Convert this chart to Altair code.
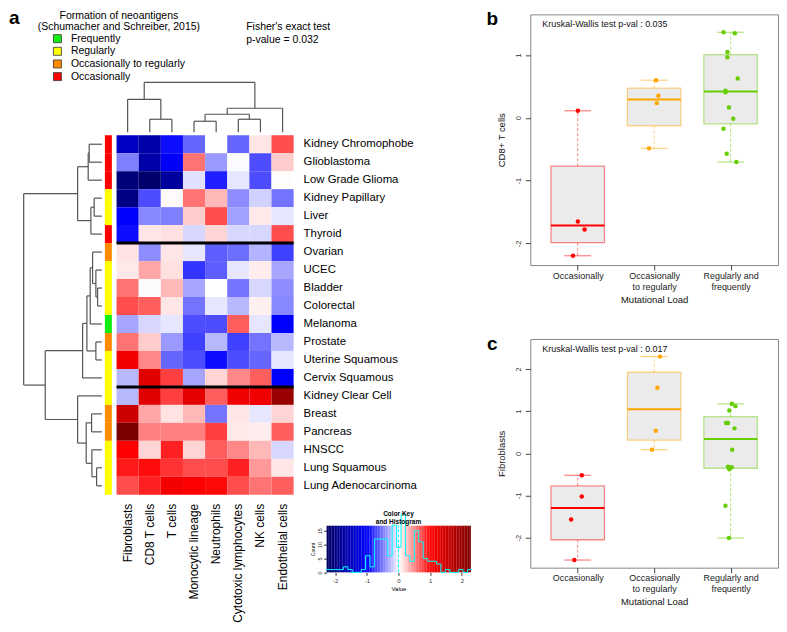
import altair as alt
import pandas as pd
import numpy as np

FONT = "Liberation Sans"

# ---------------- Panel a data ----------------
rows = ["Kidney Chromophobe", "Glioblastoma", "Low Grade Glioma", "Kidney Papillary", "Liver",
        "Thyroid", "Ovarian", "UCEC", "Bladder", "Colorectal", "Melanoma", "Prostate",
        "Uterine Squamous", "Cervix Squamous", "Kidney Clear Cell", "Breast", "Pancreas",
        "HNSCC", "Lung Squamous", "Lung Adenocarcinoma"]
cols = ["Fibroblasts", "CD8 T cells", "T cells", "Monocytic lineage", "Neutrophils",
        "Cytotoxic lymphocytes", "NK cells", "Endothelial cells"]
values = [
    [-1.5, -1.7, -0.95, -0.6, 0.0, -0.6, 0.1, 0.7],
    [-0.5, -1.7, -1.05, 0.55, -0.4, -0.02, -0.7, 0.2],
    [-2.1, -2.2, -1.8, -0.12, -0.88, -0.1, -0.7, 0.01],
    [-2.0, -0.7, 0.02, 0.55, 0.28, -0.45, -0.18, -0.55],
    [-1.0, -0.47, -0.5, 0.2, 0.7, -0.37, 0.09, -0.1],
    [-0.95, 0.1, 0.12, -0.16, 0.17, -0.16, -0.16, 0.7],
    [0.11, -0.45, 0.1, -0.1, -0.63, -0.57, -0.3, -0.75],
    [0.09, 0.35, 0.12, -0.8, -0.63, -0.1, 0.07, -0.35],
    [0.55, -0.01, 0.28, -0.35, 0.0, -0.55, -0.16, -0.45],
    [0.7, 0.63, 0.1, -0.55, -0.1, -0.28, 0.06, -0.47],
    [-0.35, -0.16, -0.1, -0.7, -0.7, 0.63, -0.1, -1.0],
    [0.55, 0.2, -0.4, -0.75, -0.28, -0.75, -0.55, -0.28],
    [1.1, 0.47, -0.6, -0.7, -0.95, -0.7, -0.6, -0.1],
    [-0.28, 1.3, 0.75, -0.35, 0.17, 0.47, 0.63, -1.0],
    [-0.28, 1.3, 0.75, 1.25, 0.63, 1.15, 1.15, 2.0],
    [1.5, 0.35, 0.11, 0.28, -0.55, 0.1, -0.1, 0.17],
    [2.3, 0.5, 0.5, 0.5, 0.75, 0.09, 0.07, 0.63],
    [1.0, 0.17, 0.87, 0.17, 0.63, 0.47, 0.28, -0.16],
    [0.9, 0.95, 0.8, 0.7, 0.7, 0.87, 0.4, 0.1],
    [0.7, 0.87, 1.1, 1.0, 0.97, 0.7, 0.55, 0.63],
]
neo_levels = ["Frequently", "Regularly", "Occasionally to regularly", "Occasionally"]
neo_colors = ["#11EE11", "#FFFF00", "#FF8C00", "#FF0000"]
neo = ["Occasionally", "Occasionally", "Occasionally", "Regularly", "Regularly", "Occasionally",
       "Occasionally to regularly", "Regularly", "Regularly", "Regularly", "Frequently",
       "Occasionally to regularly", "Regularly", "Regularly", "Regularly",
       "Occasionally to regularly", "Occasionally to regularly", "Regularly", "Regularly", "Regularly"]

# dendrograms (R hclust style: negative = leaf, positive = earlier merge)
row_merge = [(-1, -2), (1, -3), (-4, -5), (3, -6), (2, 4), (-9, -10), (-8, 6), (-7, 7), (8, -11),
             (-12, -13), (9, 10), (11, -14), (-16, -17), (-19, -20), (-18, 14), (13, 15), (-15, 16),
             (12, 17), (5, 18)]
row_height = [12.7, 13.7, 7.7, 11.0, 24.3, 4.3, 6.0, 9.3, 11.7, 6.0, 15.0, 19.3, 10.3, 5.3, 10.0,
              15.7, 24.3, 56.7, 78.3]
col_merge = [(-2, -3), (-1, 1), (-4, -5), (-6, -7), (3, 4), (5, -8), (2, 6)]
col_height = [13.0, 33.0, 11.0, 13.0, 18.0, 24.0, 50.0]

heat_domain = [-2.3, -1.0, 0.0, 1.0, 2.3]
heat_range = ["#000060", "#0000FF", "#FFFFFF", "#FF0000", "#7A0000"]
hist_breaks = [-2.3, -2.16, -2.02, -1.88, -1.74, -1.6, -1.46, -1.32, -1.18, -1.04, -0.9, -0.76,
               -0.62, -0.48, -0.34, -0.2, -0.06, 0.08, 0.22, 0.36, 0.5, 0.64, 0.78, 0.92, 1.06,
               1.2, 1.34, 1.48, 1.62, 1.76, 1.9, 2.04, 2.18, 2.32]


def dendro(merges, heights):
    pos, hh, segs = {}, {}, []

    def get(r):
        return (-r - 1, 0.0) if r < 0 else (pos[r], hh[r])

    for k, (a, b) in enumerate(merges, start=1):
        pa, ha = get(a)
        pb, hb = get(b)
        h = heights[k - 1]
        segs += [(ha, pa, h, pa), (hb, pb, h, pb), (h, pa, h, pb)]
        pos[k], hh[k] = (pa + pb) / 2, h
    return pd.DataFrame(segs, columns=["h0", "p0", "h1", "p1"])


heat_df = pd.DataFrame([{"row": r, "col": c, "ri": i, "ci": j, "v": values[i][j]}
                        for i, r in enumerate(rows) for j, c in enumerate(cols)])
ann_df = pd.DataFrame({"row": rows, "ri": range(len(rows)), "neo": neo})
rowlab_df = pd.DataFrame({"row": rows, "ri": range(len(rows))})
collab_df = pd.DataFrame({"col": cols, "ci": range(len(cols))})
sep_df = pd.DataFrame({"y": [5.5, 13.5]})
rd_df = dendro(row_merge, row_height)
cd_df = dendro(col_merge, col_height)
leg_df = pd.DataFrame({"lab": neo_levels, "k": range(4)})

HX = alt.Scale(domain=[-0.5, 7.5], range=[107.7, 285], nice=False, zero=False)
HY = alt.Scale(domain=[-0.5, 19.5], range=[121, 481], nice=False, zero=False)
RH = alt.Scale(domain=[0, 78.3], range=[93, 14.7], nice=False, zero=False)
CH = alt.Scale(domain=[0, 50], range=[118, 68], nice=False, zero=False)
HC = alt.Scale(domain=heat_domain, range=heat_range, interpolate="rgb")
NC = alt.Scale(domain=neo_levels, range=neo_colors)

heat = alt.Chart(heat_df).transform_calculate(
    x0="datum.ci - 0.5", x1="datum.ci + 0.5", y0="datum.ri - 0.5", y1="datum.ri + 0.5"
).mark_rect().encode(
    x=alt.X("x0:Q", scale=HX, axis=None), x2="x1:Q",
    y=alt.Y("y0:Q", scale=HY, axis=None), y2="y1:Q",
    color=alt.Color("v:Q", scale=HC, legend=None))

ann = alt.Chart(ann_df).transform_calculate(
    a0="0", a1="1", y0="datum.ri - 0.5", y1="datum.ri + 0.5"
).mark_rect().encode(
    x=alt.X("a0:Q", scale=alt.Scale(domain=[0, 1], range=[96, 103]), axis=None), x2="a1:Q",
    y=alt.Y("y0:Q", scale=HY, axis=None), y2="y1:Q",
    color=alt.Color("neo:N", scale=NC, legend=None))

sep = alt.Chart(sep_df).transform_calculate(xa="-0.5", xb="7.5").mark_rule(
    color="black", strokeWidth=3).encode(
    x=alt.X("xa:Q", scale=HX, axis=None), x2="xb:Q",
    y=alt.Y("y:Q", scale=HY, axis=None))

rden = alt.Chart(rd_df).mark_rule(color="#555555", strokeWidth=1.2).encode(
    x=alt.X("h0:Q", scale=RH, axis=None), x2="h1:Q",
    y=alt.Y("p0:Q", scale=HY, axis=None), y2="p1:Q")

cden = alt.Chart(cd_df).mark_rule(color="#555555", strokeWidth=1.2).encode(
    x=alt.X("p0:Q", scale=HX, axis=None), x2="p1:Q",
    y=alt.Y("h0:Q", scale=CH, axis=None), y2="h1:Q")

rlab = alt.Chart(rowlab_df).mark_text(align="left", baseline="middle", fontSize=11.4,
                                      font=FONT, color="black").encode(
    x=alt.value(295), y=alt.Y("ri:Q", scale=HY, axis=None), text="row:N")

clab = alt.Chart(collab_df).mark_text(align="right", baseline="middle", angle=270, fontSize=12,
                                      font=FONT, color="black").encode(
    x=alt.X("ci:Q", scale=HX, axis=None), y=alt.value(490), text="col:N")

LY = alt.Scale(domain=[0, 3], range=[24.3, 62.3])
leg_sq = alt.Chart(leg_df).mark_square(size=64, stroke="#333333", strokeWidth=0.8, opacity=1).encode(
    x=alt.value(48.5), y=alt.Y("k:Q", scale=LY, axis=None),
    fill=alt.Fill("lab:N", scale=NC, legend=None))
leg_tx = alt.Chart(leg_df).mark_text(align="left", baseline="middle", fontSize=10.5,
                                     font=FONT, color="black").encode(
    x=alt.value(62), y=alt.Y("k:Q", scale=LY, axis=None), text="lab:N")


def label(txt, x, y, size, align="left", weight="normal", baseline="middle", angle=0):
    return alt.Chart(pd.DataFrame({"t": [txt]})).mark_text(
        align=align, baseline=baseline, fontSize=size, font=FONT, fontWeight=weight,
        angle=angle, color="black").encode(x=alt.value(x), y=alt.value(y), text="t:N")


texts = [
    label("a", 0, -5, 19, weight="bold", baseline="top"),
    label("Formation of neoantigens", 110, 1.5, 10.5, align="center"),
    label("(Schumacher and Schreiber, 2015)", 110, 13, 10.5, align="center"),
    label("Fisher's exact test", 237.5, 13, 10.5),
    label("p-value = 0.032", 237.5, 25.7, 10.5),
    label("Color Key", 390, 500, 6.5, align="center", weight="bold"),
    label("and Histogram", 390, 508, 6.5, align="center", weight="bold"),
]

# colour key with histogram
LEFT_H = 603
KX = alt.Scale(domain=[-2.27, 2.27], range=[318, 462], nice=False, zero=False)
KY = alt.Scale(domain=[0, 16.8], range=[558.7, 512], nice=False, zero=False)
key_step = 0.05
key_vals = np.arange(-2.27, 2.27, key_step)
key_df = pd.DataFrame({"v": key_vals, "v2": key_vals + key_step + 0.005})
key = alt.Chart(key_df).transform_calculate(c0="0", c1="16.8").mark_rect().encode(
    x=alt.X("v:Q", scale=KX, axis=alt.Axis(orient="bottom", offset=558.7 - LEFT_H,
                                           values=[-2, -1, 0, 1, 2],
                                           labelExpr="'' + datum.value", grid=False, domain=False,
                                           tickSize=3, labelFontSize=6, labelPadding=2,
                                           title="Value", titleFontSize=6, titleFontWeight="normal",
                                           titlePadding=2, labelColor="#333", tickColor="#333")),
    x2="v2:Q",
    y=alt.Y("c0:Q", scale=KY, axis=alt.Axis(orient="left", offset=-318, values=[0, 5, 10, 15],
                                            grid=False, domain=False, tickSize=3, labelFontSize=5.5,
                                            labelAngle=270, labelAlign="center",
                                            labelBaseline="bottom", labelPadding=1,
                                            title="Count", titleFontSize=5,
                                            titleFontWeight="normal", titlePadding=2,
                                            labelColor="#333", tickColor="#333")),
    y2="c1:Q",
    color=alt.Color("v:Q", scale=HC, legend=None))

all_vals = np.array(values).ravel()
counts, _ = np.histogram(all_vals, bins=hist_breaks)
hist_df = pd.DataFrame({"x": hist_breaks, "n": list(counts) + [counts[-1]]})
hist = alt.Chart(hist_df).mark_line(interpolate="step-after", color="#00FFFF", strokeWidth=1).encode(
    x=alt.X("x:Q", scale=KX, axis=None), y=alt.Y("n:Q", scale=KY, axis=None))
vline = alt.Chart(pd.DataFrame({"x": [0.0], "a": [0.0], "b": [16.8]})).mark_rule(
    color="#00FFFF", strokeDash=[3, 2], strokeWidth=1).encode(
    x=alt.X("x:Q", scale=KX, axis=None), y=alt.Y("a:Q", scale=KY, axis=None), y2="b:Q")

left = alt.layer(heat, ann, sep, rden, cden, rlab, clab, leg_sq, leg_tx, key, hist, vline,
                 *texts).resolve_scale(
    x="independent", y="independent", color="independent", fill="independent"
).properties(width=465, height=LEFT_H)

# ---------------- Panels b and c ----------------
grp_names = ["Occasionally", "Occasionally to regularly", "Regularly and frequently"]
grp_colors = ["#FF0000", "#FFA500", "#66CD00"]
grp_pos = [1, 2, 3]

b_q1 = [-1.987, -0.127, -0.096]
b_med = [-1.714, 0.291, 0.418]
b_q3 = [-0.770, 0.473, 1.005]
b_wlo = [-2.196, -0.487, -0.704]
b_whi = [0.111, 0.598, 1.360]
b_pt_group = [0] * 4 + [1] * 4 + [2] * 12
b_pt_val = [0.111, -1.651, -1.778, -2.196, 0.598, 0.349, 0.233, -0.487, 1.36, 1.344, 1.048,
            0.963, 0.624, 0.429, 0.407, 0.164, -0.016, -0.175, -0.571, -0.704]
b_pt_jit = [0.002, 0.002, 0.09, -0.061, 0.025, 0.055, 0.034, -0.067, -0.093, 0.055, -0.042,
            -0.042, 0.093, -0.067, -0.067, -0.021, 0.034, -0.093, -0.051, 0.076]

c_q1 = [-2.048, 0.311, -0.354]
c_med = [-1.296, 1.043, 0.339]
c_q3 = [-0.772, 1.921, 0.867]
c_wlo = [-2.528, 0.087, -2.008]
c_whi = [-0.520, 2.291, 1.173]
c_pt_group = [0] * 4 + [1] * 4 + [2] * 12
c_pt_val = [-0.52, -1.024, -1.567, -2.528, 2.291, 1.551, 0.535, 0.087, 1.173, 1.118, 1.016,
            0.717, 0.717, 0.591, 0.087, -0.315, -0.378, -0.331, -1.244, -2.008]
c_pt_jit = [0.053, 0.053, -0.086, -0.044, 0.076, 0.042, 0.021, -0.029, 0.017, 0.063, -0.017,
            -0.059, -0.034, 0.051, 0.021, -0.034, -0.017, 0.013, -0.067, -0.021]


def box_panel(letter, ytitle, q1, med, q3, wlo, whi, pg, pv, pj, ydom, yticks, ptxt, h):
    stats = pd.DataFrame({"g": grp_names, "pos": grp_pos, "q1": q1, "med": med, "q3": q3,
                          "wlo": wlo, "whi": whi})
    pts = pd.DataFrame({"g": [grp_names[i] for i in pg], "pos": [grp_pos[i] for i in pg],
                        "jit": pj, "val": pv})
    xs = alt.Scale(domain=[0.38, 3.62], nice=False, zero=False)
    ys = alt.Scale(domain=ydom, nice=False, zero=False)
    cs = alt.Scale(domain=grp_names, range=grp_colors)
    xaxis = alt.Axis(values=[1, 2, 3], grid=False, domain=False, tickSize=5, tickColor="#444",
                     labelExpr="datum.value == 1 ? 'Occasionally' : (datum.value == 2 ? "
                               "['Occasionally', 'to regularly'] : ['Regularly and', 'frequently'])",
                     labelFontSize=9, labelColor="#222", labelLineHeight=11, labelPadding=1,
                     title="Mutational Load", titleFontSize=9.5, titleFontWeight="normal",
                     titleColor="#111", titlePadding=3)
    yaxis = alt.Axis(values=yticks, grid=False, domain=False, tickSize=5, tickColor="#444",
                     labelExpr="'' + datum.value", labelAngle=270, labelAlign="center",
                     labelBaseline="bottom", labelFontSize=7.5, labelColor="#333", labelPadding=3,
                     title=ytitle, titleFontSize=9.5, titleFontWeight="normal", titleColor="#111",
                     titlePadding=8)
    base = alt.Chart(stats).transform_calculate(
        lo="datum.pos - 0.35", hi="datum.pos + 0.35",
        clo="datum.pos - 0.175", chi="datum.pos + 0.175")
    box = base.mark_rect(fill="#EBEBEB", strokeWidth=1.3, strokeOpacity=0.45).encode(
        x=alt.X("lo:Q", scale=xs, axis=xaxis), x2="hi:Q",
        y=alt.Y("q1:Q", scale=ys, axis=yaxis), y2="q3:Q",
        stroke=alt.Stroke("g:N", scale=cs, legend=None))
    medl = base.mark_rule(strokeWidth=2).encode(
        x="lo:Q", x2="hi:Q", y="med:Q", color=alt.Color("g:N", scale=cs, legend=None))
    wh = base.mark_rule(strokeDash=[3, 2], strokeWidth=1, opacity=0.5).encode(
        x="pos:Q", y="q3:Q", y2="whi:Q", color=alt.Color("g:N", scale=cs, legend=None))
    wl = base.mark_rule(strokeDash=[3, 2], strokeWidth=1, opacity=0.5).encode(
        x="pos:Q", y="q1:Q", y2="wlo:Q", color=alt.Color("g:N", scale=cs, legend=None))
    ch = base.mark_rule(strokeWidth=1.2, opacity=0.5).encode(
        x="clo:Q", x2="chi:Q", y="whi:Q", color=alt.Color("g:N", scale=cs, legend=None))
    cl = base.mark_rule(strokeWidth=1.2, opacity=0.5).encode(
        x="clo:Q", x2="chi:Q", y="wlo:Q", color=alt.Color("g:N", scale=cs, legend=None))
    pt = alt.Chart(pts).transform_calculate(xj="datum.pos + datum.jit").mark_circle(
        size=20, opacity=1).encode(
        x="xj:Q", y="val:Q", color=alt.Color("g:N", scale=cs, legend=None))
    kw = alt.Chart(pd.DataFrame({"t": [ptxt]})).mark_text(
        align="left", baseline="middle", fontSize=9, font=FONT, color="#111").encode(
        x=alt.value(12), y=alt.value(10), text="t:N")
    lt = alt.Chart(pd.DataFrame({"t": [letter]})).mark_text(
        align="center", baseline="middle", fontSize=19, fontWeight="bold", font=FONT,
        color="black").encode(x=alt.value(-38), y=alt.value(5), text="t:N")
    return alt.layer(box, wh, wl, ch, cl, medl, pt, kw, lt).properties(
        width=248, height=h, view=alt.ViewBackground(stroke="#888888", strokeWidth=1))


pb = box_panel("b", "CD8+ T cells", b_q1, b_med, b_q3, b_wlo, b_whi, b_pt_group, b_pt_val,
               b_pt_jit, [-2.344, 1.645], [-2, -1, 0, 1], "Kruskal-Wallis test p-val : 0.035", 251)
pc = box_panel("c", "Fibroblasts", c_q1, c_med, c_q3, c_wlo, c_whi, c_pt_group, c_pt_val,
               c_pt_jit, [-2.709, 2.709], [-2, -1, 0, 1, 2], "Kruskal-Wallis test p-val : 0.017", 229)

right = alt.vconcat(pb, pc, spacing=30)

chart = alt.hconcat(left, right, spacing=10, padding=0).configure_view(
    stroke="transparent").configure_axis(labelFont=FONT, titleFont=FONT).configure_text(font=FONT)

chart.save("out.html", embed_options={"renderer": "svg", "actions": False})
